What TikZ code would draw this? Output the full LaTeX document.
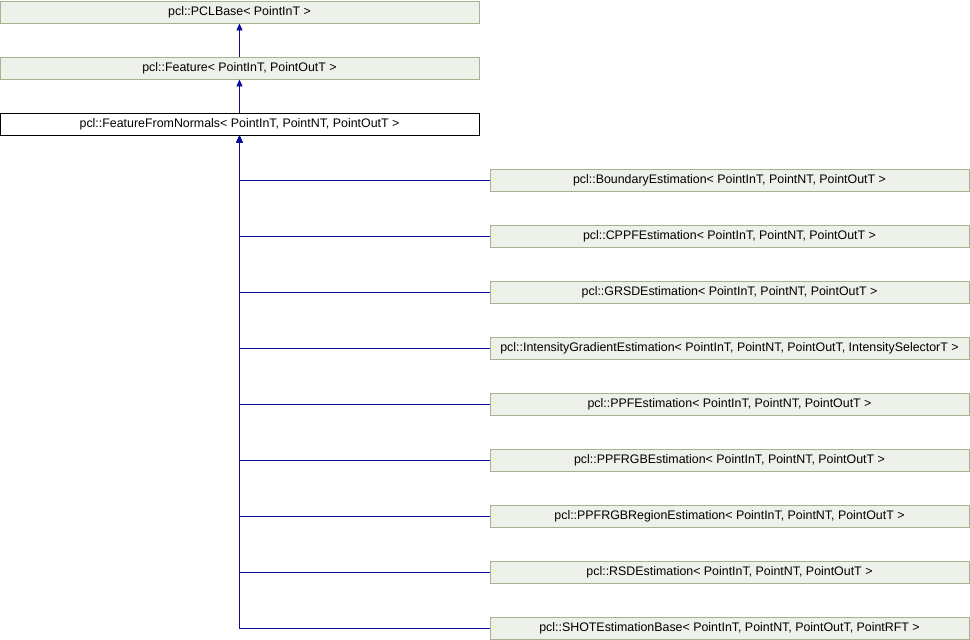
\documentclass[tikz,border=0pt]{standalone}
\usepackage{fontspec}
\setmainfont{Liberation Sans}
\usepackage{xcolor}
\usetikzlibrary{arrows.meta}
\definecolor{boxfill}{HTML}{EEF1EA}
\definecolor{boxline}{HTML}{A3B48E}
\definecolor{edgeblue}{HTML}{0C0CA0}

\begin{document}
\begin{tikzpicture}[x=1pt, y=-1pt, node distance=56pt,
    cls/.style={rectangle, draw=boxline, fill=boxfill, line width=0.9pt, minimum width=479pt, minimum height=22pt, inner sep=0pt, font=\fontsize{12.4}{14}\selectfont},
    cur/.style={cls, draw=black, fill=white},
    inh/.style={draw=edgeblue, line width=0.9pt, {Triangle[length=7pt, width=6pt]}-}]
    \useasboundingbox (0,0) rectangle (970,640);
    \node[cls] (base) at (239.5,12) {pcl::PCLBase\textless{} PointInT \textgreater};
    \node[cls, below of=base] (feat) {pcl::Feature\textless{} PointInT, PointOutT \textgreater};
    \node[cur, below of=feat] (ffn) {pcl::FeatureFromNormals\textless{} PointInT, PointNT, PointOutT \textgreater};
    \node[cls] (bnd) at (729.5,180) {pcl::BoundaryEstimation\textless{} PointInT, PointNT, PointOutT \textgreater};
    \node[cls, below of=bnd] (cppf) {pcl::CPPFEstimation\textless{} PointInT, PointNT, PointOutT \textgreater};
    \node[cls, below of=cppf] (grsd) {pcl::GRSDEstimation\textless{} PointInT, PointNT, PointOutT \textgreater};
    \node[cls, below of=grsd] (ige) {pcl::IntensityGradientEstimation\textless{} PointInT, PointNT, PointOutT, IntensitySelectorT \textgreater};
    \node[cls, below of=ige] (ppf) {pcl::PPFEstimation\textless{} PointInT, PointNT, PointOutT \textgreater};
    \node[cls, below of=ppf] (ppfrgb) {pcl::PPFRGBEstimation\textless{} PointInT, PointNT, PointOutT \textgreater};
    \node[cls, below of=ppfrgb] (ppfreg) {pcl::PPFRGBRegionEstimation\textless{} PointInT, PointNT, PointOutT \textgreater};
    \node[cls, below of=ppfreg] (rsd) {pcl::RSDEstimation\textless{} PointInT, PointNT, PointOutT \textgreater};
    \node[cls, below of=rsd] (shot) {pcl::SHOTEstimationBase\textless{} PointInT, PointNT, PointOutT, PointRFT \textgreater};
    \draw[inh] (base) -- (feat);
    \draw[inh] (feat) -- (ffn);
    \draw[inh] (ffn.south) |- (bnd.west);
    \draw[inh] (ffn.south) |- (cppf.west);
    \draw[inh] (ffn.south) |- (grsd.west);
    \draw[inh] (ffn.south) |- (ige.west);
    \draw[inh] (ffn.south) |- (ppf.west);
    \draw[inh] (ffn.south) |- (ppfrgb.west);
    \draw[inh] (ffn.south) |- (ppfreg.west);
    \draw[inh] (ffn.south) |- (rsd.west);
    \draw[inh] (ffn.south) |- (shot.west);
\end{tikzpicture}
\end{document}
